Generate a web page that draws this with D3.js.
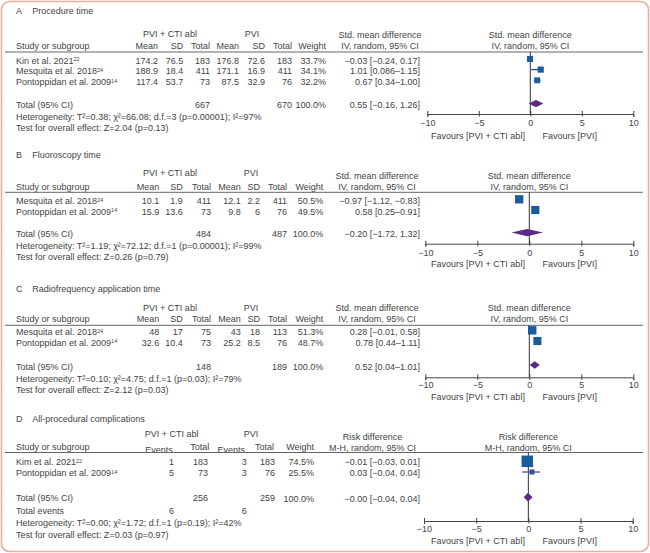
<!DOCTYPE html>
<html><head><meta charset="utf-8">
<script src="https://cdn.jsdelivr.net/npm/d3@7"></script>
<style>
html,body{margin:0;padding:0;background:#fff;}
svg text{font-family:"Liberation Sans", Arial, sans-serif;font-size:9px;fill:#444;}
</style></head>
<body><svg id="c" width="650" height="553"></svg>
<script>
// ---------- DATA ----------
const panelLetters = ["A", "B", "C", "D"];
const panelNames = ["Procedure time", "Fluoroscopy time", "Radiofrequency application time", "All-procedural complications"];
const effectTitle = ["Std. mean difference", "Std. mean difference", "Std. mean difference", "Risk difference"];
const effectMethod = ["IV, random, 95% CI", "IV, random, 95% CI", "IV, random, 95% CI", "M-H, random, 95% CI"];
const groupExp = "PVI + CTI abl";
const groupCtl = "PVI";
const axisTicks = [-10, -5, 0, 5, 10];
const favoursLeft = "Favours [PVI + CTI abl]";
const favoursRight = "Favours [PVI]";

// Panel A
const studiesA = ["Kin et al. 2021", "Mesquita et al. 2018", "Pontoppidan et al. 2009"];
const refsA = ["22", "24", "14"];
const meanExpA = ["174.2", "188.9", "117.4"];
const sdExpA = ["76.5", "18.4", "53.7"];
const nExpA = [183, 411, 73];
const meanCtlA = ["176.8", "171.1", "87.5"];
const sdCtlA = ["72.6", "16.9", "32.9"];
const nCtlA = [183, 411, 76];
const weightA = [33.7, 34.1, 32.2];
const estA = [-0.03, 1.01, 0.67];
const loA = [-0.24, 0.086, 0.34];
const hiA = [0.17, 1.15, 1.00];
const ciTextA = ["−0.03 [−0.24, 0.17]", "1.01 [0.086–1.15]", "0.67 [0.34–1.00]"];

// Panel B
const studiesB = ["Mesquita et al. 2018", "Pontoppidan et al. 2009"];
const refsB = ["24", "14"];
const meanExpB = ["10.1", "15.9"];
const sdExpB = ["1.9", "13.6"];
const nExpB = [411, 73];
const meanCtlB = ["12.1", "9.8"];
const sdCtlB = ["2.2", "6"];
const nCtlB = [411, 76];
const weightB = [50.5, 49.5];
const estB = [-0.97, 0.58];
const loB = [-1.12, 0.25];
const hiB = [-0.83, 0.91];
const ciTextB = ["−0.97 [−1.12, −0.83]", "0.58 [0.25–0.91]"];

// Panel C
const studiesC = ["Mesquita et al. 2018", "Pontoppidan et al. 2009"];
const refsC = ["24", "14"];
const meanExpC = ["48", "32.6"];
const sdExpC = ["17", "10.4"];
const nExpC = [75, 73];
const meanCtlC = ["43", "25.2"];
const sdCtlC = ["18", "8.5"];
const nCtlC = [113, 76];
const weightC = [51.3, 48.7];
const estC = [0.28, 0.78];
const loC = [-0.01, 0.44];
const hiC = [0.58, 1.11];
const ciTextC = ["0.28 [−0.01, 0.58]", "0.78 [0.44–1.11]"];

// Panel D
const studiesD = ["Kim et al. 2021", "Pontoppidan et al. 2009"];
const refsD = ["22", "14"];
const eventsExpD = [1, 5];
const nExpD = [183, 73];
const eventsCtlD = [3, 3];
const nCtlD = [183, 76];
const weightD = [74.5, 25.5];
// positions as plotted in the figure
const estD = [-0.1, 0.35];
const loD = [-0.3, -0.6];
const hiD = [0.1, 1.1];
const ciTextD = ["−0.01 [−0.03, 0.01]", "0.03 [−0.04, 0.04]"];

// Totals
const totalNExp = [667, 484, 148, 256];
const totalNCtl = [670, 487, 189, 259];
const totalEst = [0.55, -0.20, 0.52, -0.03];
const totalLo = [-0.16, -1.72, 0.04, -0.45];
const totalHi = [1.26, 1.32, 1.01, 0.4];
const totalText = ["0.55 [−0.16, 1.26]", "−0.20 [−1.72, 1.32]", "0.52 [0.04–1.01]", "−0.00 [−0.04, 0.04]"];
const totalEventsExp = 6;
const totalEventsCtl = 6;
const heterogeneity = [
  "Heterogeneity: T²=0.38; χ²=66.08; d.f.=3 (p=0.00001); I²=97%",
  "Heterogeneity: T²=1.19; χ²=72.12; d.f.=1 (p=0.00001); I²=99%",
  "Heterogeneity: T²=0.10; χ²=4.75; d.f.=1 (p=0.03); I²=79%",
  "Heterogeneity: T²=0.00; χ²=1.72; d.f.=1 (p=0.19); I²=42%"
];
const overallTest = [
  "Test for overall effect: Z=2.04 (p=0.13)",
  "Test for overall effect: Z=0.26 (p=0.79)",
  "Test for overall effect: Z=2.12 (p=0.03)",
  "Test for overall effect: Z=0.03 (p=0.97)"
];

// ---------- DRAWING ----------
const svg = d3.select("#c");
const BLUE = "#1b5c9c", PURPLE = "#5a2a84", TXT = "#444";
const FONT = "'Liberation Sans', Arial, sans-serif", FS = "9px";

svg.append("rect").attr("x", 1.5).attr("y", 1.5).attr("width", 647).attr("height", 550)
  .attr("rx", 8).attr("fill", "#fff").attr("stroke", "#f1ab9a").attr("stroke-width", 1.6);

const sizeScale = d3.scaleLinear().domain([0, 100]).range([1.6, 14.9]);

function txt(g, x, y, s, anchor) {
  return g.append("text").attr("x", x).attr("y", y).attr("dy", "0.35em")
    .attr("text-anchor", anchor || "start").text(s);
}
function study(g, x, y, name, ref) {
  const t = g.append("text").attr("x", x).attr("y", y).attr("dy", "0.35em");
  t.append("tspan").text(name);
  t.append("tspan").attr("dy", "-0.45em").style("font-size", "5.5px").text(ref);
  return t;
}

const layouts = [
  {title: 11, grp: 34, hdr: 46, line: 52, rows: [60.7, 71.3, 82], total: 105.3, het: 117.2, test: 127.9,
   axis: 114, tl: 123.3, fav: 136, rh1: 35, rh2: 45.5, x0: 427.3, x1: 633.3, lhc: 380,
   cols: [158, 183.3, 210, 239, 265, 292, 326], grpX: [170, 252]},
  {title: 155, grp: 173.3, hdr: 186.7, line: 192.3, rows: [201, 211.7], total: 234.3, het: 246.3, test: 257,
   axis: 243.7, tl: 252.7, fav: 264.3, rh1: 176, rh2: 186.7, x0: 425.3, x1: 633.3, lhc: 377,
   cols: [159.3, 182.7, 211, 240.7, 260, 287, 323.3], grpX: [170, 251]},
  {title: 289, grp: 307.7, hdr: 318.7, line: 325.3, rows: [332, 342.7], total: 366.7, het: 378.9, test: 389.5,
   axis: 377.3, tl: 385.3, fav: 397.3, rh1: 308.2, rh2: 318.8, x0: 425.3, x1: 633.3, lhc: 377,
   cols: [159.3, 182.7, 211, 240.7, 260, 287, 323.3], grpX: [170, 251]},
  {title: 419, grp: 434.3, hdr: 447.3, line: 452.5, rows: [462.3, 473], total: 498, tev: 510.7, het: 523.3, test: 535.3,
   axis: 521, tl: 529.3, fav: 541, rh1: 437.2, rh2: 447.8, x0: 424, x1: 632.7, lhc: 372.5,
   cols: [174, 208, 246.7, 275, 314], grpX: [171.7, 251]}
];

const panelData = [
  {studies: studiesA, refs: refsA, cols: [meanExpA, sdExpA, nExpA, meanCtlA, sdCtlA, nCtlA], w: weightA, est: estA, lo: loA, hi: hiA, ci: ciTextA},
  {studies: studiesB, refs: refsB, cols: [meanExpB, sdExpB, nExpB, meanCtlB, sdCtlB, nCtlB], w: weightB, est: estB, lo: loB, hi: hiB, ci: ciTextB},
  {studies: studiesC, refs: refsC, cols: [meanExpC, sdExpC, nExpC, meanCtlC, sdCtlC, nCtlC], w: weightC, est: estC, lo: loC, hi: hiC, ci: ciTextC},
  {studies: studiesD, refs: refsD, cols: [eventsExpD, nExpD, eventsCtlD, nCtlD], w: weightD, est: estD, lo: loD, hi: hiD, ci: ciTextD}
];

panelData.forEach((P, i) => {
  const L = layouts[i];
  const g = svg.append("g");
  const isD = i === 3;
  txt(g, 16, L.title, panelLetters[i]);
  txt(g, 32.3, L.title, panelNames[i]);
  txt(g, L.grpX[0], L.grp, groupExp, "middle");
  txt(g, L.grpX[1], L.grp, groupCtl, "middle");
  txt(g, 16, L.hdr, "Study or subgroup");
  if (!isD) {
    const hdrs = ["Mean", "SD", "Total", "Mean", "SD", "Total", "Weight"];
    hdrs.forEach((h, k) => txt(g, L.cols[k], L.hdr, h, "end"));
  } else {
    txt(g, 159, L.hdr + 2.7, "Events", "middle");
    txt(g, 209.3, L.hdr, "Total", "end");
    txt(g, 231.3, L.hdr + 2.7, "Events", "middle");
    txt(g, 274, L.hdr, "Total", "end");
    txt(g, 314, L.hdr, "Weight", "end");
  }
  txt(g, L.lhc, L.rh1, effectTitle[i], "middle");
  txt(g, L.lhc, L.rh2, effectMethod[i], "middle");
  const x = d3.scaleLinear().domain([-10, 10]).range([L.x0, L.x1]);
  txt(g, x(0), L.rh1, effectTitle[i], "middle");
  txt(g, x(0), L.rh2, effectMethod[i], "middle");

  g.append("line").attr("x1", 5).attr("x2", 643).attr("y1", L.line).attr("y2", L.line)
    .attr("stroke", "#666").attr("stroke-width", 1);

  P.studies.forEach((s, r) => {
    const y = L.rows[r];
    study(g, 16, y, s, P.refs[r]);
    P.cols.forEach((col, k) => txt(g, L.cols[k], y, String(col[r]), "end"));
    txt(g, L.cols[L.cols.length - 1], y, P.w[r].toFixed(1) + "%", "end");
    txt(g, 420, y, P.ci[r], "end");
  });
  const nTot = isD ? [1, 3] : [2, 5];
  txt(g, 16, L.total, "Total (95% CI)");
  txt(g, L.cols[nTot[0]], L.total, String(totalNExp[i]), "end");
  txt(g, L.cols[nTot[1]], L.total, String(totalNCtl[i]), "end");
  txt(g, L.cols[L.cols.length - 1], L.total + (isD ? 1 : 0), "100.0%", "end");
  txt(g, 420, L.total + (isD ? 0.7 : 0), totalText[i], "end");
  if (isD) {
    txt(g, 16, L.tev, "Total events");
    txt(g, L.cols[0], L.tev, String(totalEventsExp), "end");
    txt(g, L.cols[2], L.tev, String(totalEventsCtl), "end");
  }
  txt(g, 16, L.het, heterogeneity[i]);
  txt(g, 16, L.test, overallTest[i]);

  const ax = g.append("g").attr("transform", `translate(0,${L.axis})`)
    .call(d3.axisBottom(x).tickValues(axisTicks).tickSize(3).tickPadding(3));
  ax.select(".domain").attr("stroke", "#444");
  ax.selectAll(".tick line").attr("y1", -3).attr("y2", 2.5).attr("stroke", "#444");
  ax.selectAll(".tick text").attr("y", L.tl - L.axis).attr("dy", "0.35em")
    .style("font-family", FONT).style("font-size", FS).attr("fill", TXT);
  txt(g, 478, L.fav, favoursLeft, "middle");
  txt(g, 569.7, L.fav, favoursRight, "middle");

  g.append("line").attr("x1", x(0)).attr("x2", x(0)).attr("y1", L.line).attr("y2", L.axis)
    .attr("stroke", "#333").attr("stroke-width", 1);

  const off = isD ? -1 : -1.7;
  P.est.forEach((e, r) => {
    const y = L.rows[r] + off;
    g.append("line").attr("x1", x(P.lo[r])).attr("x2", x(P.hi[r])).attr("y1", y).attr("y2", y)
      .attr("stroke", isD ? "#7a4c9e" : BLUE).attr("stroke-width", 1.4);
    const s = sizeScale(P.w[r]);
    g.append("rect").attr("x", x(e) - s / 2).attr("y", y - s / 2).attr("width", s).attr("height", s)
      .attr("fill", BLUE);
  });
  const yd = L.total + off + (isD ? 0.3 : 0);
  const h = isD ? 4.5 : 3.7;
  g.append("path").attr("d", `M${x(totalLo[i])},${yd} L${x(totalEst[i])},${yd - h} L${x(totalHi[i])},${yd} L${x(totalEst[i])},${yd + h} Z`)
    .attr("fill", PURPLE);
});
</script></body></html>
